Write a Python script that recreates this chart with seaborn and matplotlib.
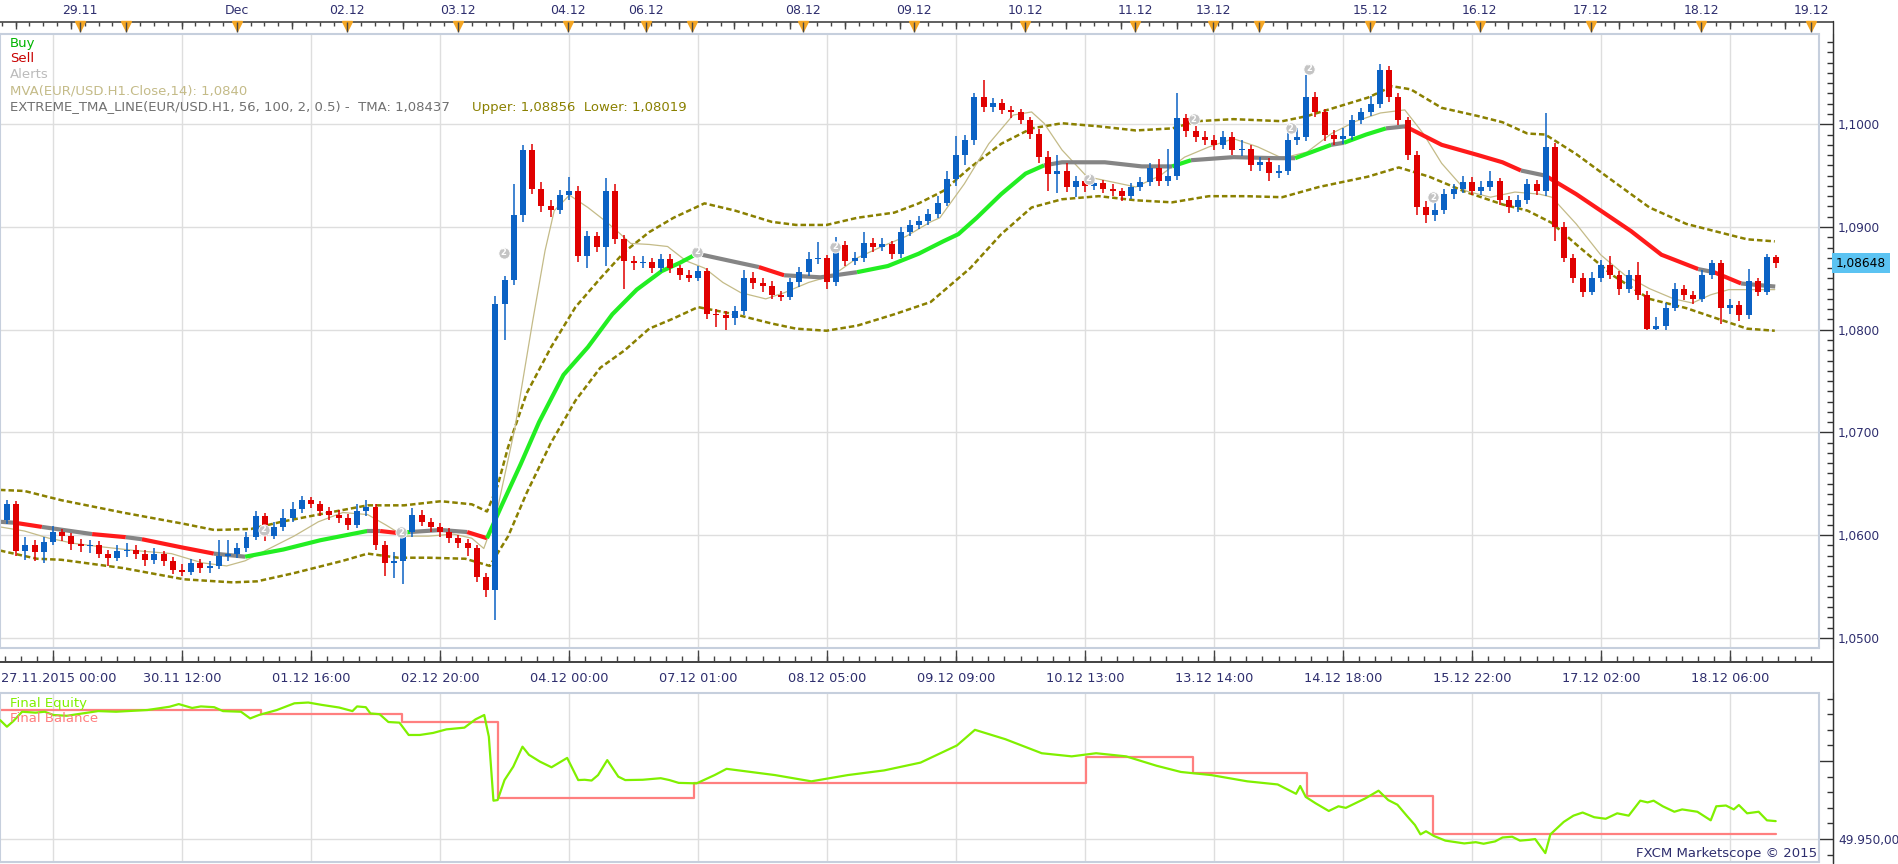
import numpy as np
import matplotlib.pyplot as plt
import seaborn as sns
from matplotlib.lines import Line2D
from matplotlib.ticker import MultipleLocator

sns.set_style("white")
plt.rcParams['font.family'] = ['DejaVu Sans']

W, H = 1899, 864

# ---------------- data (2-hour candles, x = trading hours from 27.11 00:00) ----------------
first_open = 1.0615
closes = [
    1.0630, 1.0585, 1.0590, 1.0584, 1.0593, 1.0603, 1.0599, 1.0591, 1.0589, 1.0590,
    1.0582, 1.0578, 1.0585, 1.0586, 1.0582, 1.0576, 1.0582, 1.0575, 1.0566, 1.0564,
    1.0573, 1.0568, 1.0570, 1.0580, 1.0582, 1.0587, 1.0598, 1.0619, 1.0599, 1.0608,
    1.0617, 1.0625, 1.0634, 1.0630, 1.0623, 1.0620, 1.0617, 1.0610, 1.0623, 1.0627,
    1.0590, 1.0573, 1.0575, 1.0603, 1.0620, 1.0613, 1.0608, 1.0603, 1.0597, 1.0592,
    1.0587, 1.0559, 1.0547, 1.0825, 1.0848, 1.0912, 1.0975, 1.0937, 1.0920, 1.0917,
    1.0931, 1.0935, 1.0872, 1.0891, 1.0881, 1.0935, 1.0888, 1.0867, 1.0865, 1.0866,
    1.0860, 1.0869, 1.0860, 1.0853, 1.0850, 1.0857, 1.0815, 1.0814, 1.0811, 1.0818,
    1.0850, 1.0845, 1.0843, 1.0834, 1.0832, 1.0846, 1.0856, 1.0869, 1.0870, 1.0846,
    1.0882, 1.0867, 1.0870, 1.0884, 1.0881, 1.0883, 1.0874, 1.0895, 1.0902, 1.0906,
    1.0913, 1.0923, 1.0947, 1.0970, 1.0985, 1.1027, 1.1017, 1.1021, 1.1014, 1.1012,
    1.1004, 1.0991, 1.0968, 1.0952, 1.0955, 1.0939, 1.0945, 1.0940, 1.0943, 1.0937,
    1.0935, 1.0930, 1.0939, 1.0944, 1.0957, 1.0945, 1.0950, 1.1006, 1.0993, 1.0988,
    1.0985, 1.0980, 1.0988, 1.0975, 1.0976, 1.0960, 1.0963, 1.0953, 1.0955, 1.0985,
    1.0988, 1.1027, 1.1012, 1.0990, 1.0986, 1.0989, 1.1004, 1.1012, 1.1020, 1.1053,
    1.1027, 1.1004, 1.0970, 1.0919, 1.0912, 1.0917, 1.0932, 1.0937, 1.0944, 1.0935,
    1.0939, 1.0945, 1.0926, 1.0919, 1.0926, 1.0942, 1.0935, 1.0978, 1.0900, 1.0870,
    1.0850, 1.0837, 1.0850, 1.0863, 1.0853, 1.0840, 1.0853, 1.0834, 1.0801, 1.0804,
    1.0821, 1.0840, 1.0834, 1.0830, 1.0853, 1.0865, 1.0821, 1.0824, 1.0814, 1.0847,
    1.0837, 1.0871, 1.0865,
]
highs = [
    1.0634, 1.0633, 1.0598, 1.0595, 1.0598, 1.0609, 1.0606, 1.0602, 1.0596, 1.0595,
    1.0594, 1.0586, 1.0590, 1.0592, 1.0590, 1.0586, 1.0587, 1.0585, 1.0579, 1.0572,
    1.0577, 1.0577, 1.0575, 1.0595, 1.0595, 1.0592, 1.0603, 1.0623, 1.0622, 1.0613,
    1.0625, 1.0632, 1.0638, 1.0637, 1.0633, 1.0627, 1.0624, 1.0621, 1.0630, 1.0634,
    1.0630, 1.0594, 1.0584, 1.0608, 1.0626, 1.0624, 1.0617, 1.0612, 1.0607, 1.0600,
    1.0596, 1.0590, 1.0563, 1.0833, 1.0852, 1.0942, 1.0980, 1.0981, 1.0944, 1.0926,
    1.0936, 1.0949, 1.0940, 1.0896, 1.0895, 1.0948, 1.0942, 1.0892, 1.0872, 1.0872,
    1.0870, 1.0874, 1.0874, 1.0863, 1.0858, 1.0862, 1.0860, 1.0820, 1.0818, 1.0823,
    1.0858, 1.0856, 1.0850, 1.0847, 1.0838, 1.0850, 1.0861, 1.0876, 1.0885, 1.0873,
    1.0890, 1.0886, 1.0876, 1.0895, 1.0889, 1.0889, 1.0886, 1.0900, 1.0907, 1.0911,
    1.0918, 1.0930, 1.0955, 1.0989, 1.0990, 1.1030, 1.1043, 1.1026, 1.1025, 1.1018,
    1.1015, 1.1007, 1.0995, 1.0974, 1.0970, 1.0962, 1.0950, 1.0949, 1.0948, 1.0946,
    1.0942, 1.0938, 1.0943, 1.0949, 1.0962, 1.0966, 1.0976, 1.1030, 1.1010, 1.0998,
    1.0993, 1.0990, 1.0993, 1.0992, 1.0985, 1.0980, 1.0968, 1.0967, 1.0960, 1.0995,
    1.0996, 1.1048, 1.1031, 1.1015, 1.0994, 1.0996, 1.1009, 1.1016, 1.1028, 1.1059,
    1.1057, 1.1030, 1.1007, 1.0974, 1.0925, 1.0924, 1.0937, 1.0942, 1.0950, 1.0949,
    1.0945, 1.0955, 1.0948, 1.0930, 1.0931, 1.0947, 1.0946, 1.1011, 1.0982, 1.0905,
    1.0874, 1.0855, 1.0856, 1.0868, 1.0872, 1.0857, 1.0858, 1.0866, 1.0838, 1.0812,
    1.0826, 1.0845, 1.0844, 1.0838, 1.0858, 1.0868, 1.0868, 1.0830, 1.0828, 1.0859,
    1.0850, 1.0874, 1.0873,
]
lows = [
    1.0611, 1.0580, 1.0576, 1.0575, 1.0573, 1.0590, 1.0594, 1.0586, 1.0584, 1.0583,
    1.0578, 1.0570, 1.0575, 1.0579, 1.0577, 1.0570, 1.0572, 1.0570, 1.0562, 1.0560,
    1.0561, 1.0563, 1.0563, 1.0567, 1.0575, 1.0578, 1.0584, 1.0595, 1.0594, 1.0596,
    1.0604, 1.0613, 1.0622, 1.0626, 1.0619, 1.0615, 1.0612, 1.0605, 1.0607, 1.0619,
    1.0586, 1.0560, 1.0558, 1.0552, 1.0598, 1.0609, 1.0603, 1.0598, 1.0592, 1.0587,
    1.0580, 1.0554, 1.0540, 1.0517, 1.0790, 1.0844, 1.0905, 1.0932, 1.0915, 1.0910,
    1.0913, 1.0926, 1.0866, 1.0860, 1.0876, 1.0862, 1.0883, 1.0840, 1.0858, 1.0860,
    1.0855, 1.0856, 1.0855, 1.0848, 1.0846, 1.0847, 1.0810, 1.0803, 1.0800, 1.0805,
    1.0814, 1.0840, 1.0837, 1.0830, 1.0828, 1.0829, 1.0842, 1.0852, 1.0864, 1.0840,
    1.0843, 1.0862, 1.0863, 1.0866, 1.0876, 1.0877, 1.0869, 1.0870, 1.0891, 1.0898,
    1.0902, 1.0909, 1.0920, 1.0940, 1.0960, 1.0980, 1.1012, 1.1012, 1.1010, 1.1006,
    1.1000, 1.0986, 1.0962, 1.0935, 1.0933, 1.0934, 1.0929, 1.0934, 1.0936, 1.0933,
    1.0930, 1.0925, 1.0927, 1.0935, 1.0940, 1.0940, 1.0940, 1.0946, 1.0988, 1.0983,
    1.0980, 1.0975, 1.0976, 1.0970, 1.0969, 1.0955, 1.0955, 1.0945, 1.0948, 1.0951,
    1.0980, 1.0984, 1.1007, 1.0984, 1.0980, 1.0981, 1.0985, 1.1000, 1.1008, 1.1016,
    1.1022, 1.0999, 1.0965, 1.0912, 1.0904, 1.0906, 1.0913, 1.0927, 1.0933, 1.0931,
    1.0931, 1.0935, 1.0921, 1.0914, 1.0915, 1.0922, 1.0931, 1.0930, 1.0886, 1.0866,
    1.0845, 1.0832, 1.0834, 1.0846, 1.0849, 1.0834, 1.0836, 1.0829, 1.0800, 1.0800,
    1.0800, 1.0818, 1.0829, 1.0825, 1.0827, 1.0849, 1.0806, 1.0815, 1.0808, 1.0810,
    1.0833, 1.0834, 1.0860,
]

# TMA centre line: node hour, value, state of the segment starting at the node (f=flat, d=down, u=up)
tma_h = [-11.5, -8.2, -2.4, 8.5, 15.8, 19.3, 28.0, 34.9, 41.7, 50.0, 58.0, 68.2, 71.0, 74.9, 77.5,
         84.2, 89.9, 94.2, 97.5, 101.5, 105.5, 110.8, 116.1, 121.4, 126.7, 132.1, 136.0, 139.8,
         148.0, 153.2, 158.7, 166.6, 174.5, 181.2, 187.9, 193.2, 196.5, 200.5, 205.8, 211.1,
         215.1, 219.0, 228.3, 236.3, 242.9, 247.0, 256.2, 265.5, 269.6, 277.4, 280.2, 285.0,
         289.3, 293.5, 301.4, 309.3, 314.6, 318.6, 323.9, 330.6, 335.9, 342.5, 349.1, 357.1,
         360.5, 366.4, 373.8]
tma_p = [1.0613, 1.0612, 1.0608, 1.0601, 1.0598, 1.0596, 1.0588, 1.0582, 1.0579, 1.0586, 1.0595,
         1.0604, 1.0604, 1.0602, 1.0603, 1.0605, 1.0603, 1.0597, 1.0630, 1.0669, 1.0710, 1.0756,
         1.0783, 1.0815, 1.0839, 1.0857, 1.0865, 1.0874, 1.0866, 1.0861, 1.0853, 1.0851, 1.0856,
         1.0862, 1.0874, 1.0886, 1.0893, 1.0909, 1.0932, 1.0952, 1.0960, 1.0963, 1.0963, 1.0959,
         1.0959, 1.0965, 1.0968, 1.0967, 1.0967, 1.0980, 1.0982, 1.0990, 1.0996, 1.0998, 1.0980,
         1.0970, 1.0963, 1.0955, 1.0950, 1.0932, 1.0916, 1.0896, 1.0873, 1.0859, 1.0856, 1.0845,
         1.0842]
tma_state = ['f', 'd', 'f', 'd', 'f', 'd', 'd', 'f', 'u', 'u', 'u', 'f', 'd', 'u', 'f',
             'f', 'd', 'u', 'u', 'u', 'u', 'u', 'u', 'u', 'u', 'u', 'u', 'f',
             'f', 'd', 'f', 'f', 'u', 'u', 'u', 'u', 'u', 'u', 'u', 'u',
             'f', 'f', 'f', 'f', 'u', 'f', 'f', 'f', 'u', 'f', 'u', 'u',
             'f', 'd', 'd', 'd', 'd', 'f', 'd', 'd', 'd', 'd', 'd', 'f',
             'd', 'f', 'f']

upper_h = [-11.5, -6.2, 1.8, 15.1, 28.4, 35.0, 43.0, 49.6, 57.6, 68.3, 76.2, 84.2, 90.9, 94.2, 96.5,
           98.8, 102.8, 108.1, 113.4, 118.8, 124.1, 129.4, 134.7, 141.4, 148.0, 156.0, 161.3,
           167.9, 174.6, 182.6, 187.9, 193.2, 199.1, 205.8, 212.4, 219.0, 227.0, 235.0, 242.9,
           248.3, 256.2, 266.8, 272.2, 278.8, 285.4, 290.7, 294.7, 301.4, 309.3, 314.6, 320.0,
           323.9, 330.6, 338.5, 346.5, 354.5, 362.4, 367.7, 373.7]
upper_p = [1.0644, 1.0643, 1.0634, 1.0622, 1.0611, 1.0605, 1.0606, 1.0613, 1.0620, 1.0629, 1.0629,
           1.0633, 1.0630, 1.0623, 1.0648, 1.0686, 1.0738, 1.0783, 1.0822, 1.0850, 1.0876, 1.0895,
           1.0909, 1.0923, 1.0916, 1.0905, 1.0902, 1.0902, 1.0909, 1.0914, 1.0923, 1.0935, 1.0958,
           1.0981, 1.0996, 1.1001, 1.0998, 1.0994, 1.0996, 1.1003, 1.1005, 1.1003, 1.1008, 1.1017,
           1.1026, 1.1037, 1.1034, 1.1016, 1.1008, 1.1002, 1.0991, 1.0990, 1.0971, 1.0945, 1.0919,
           1.0903, 1.0894, 1.0888, 1.0886]
lower_h = [-11.5, -3.5, 1.8, 15.1, 28.4, 39.0, 44.3, 52.3, 62.9, 68.3, 74.9, 81.5, 89.5, 94.8, 98.8,
           102.8, 108.1, 113.4, 118.8, 124.1, 129.4, 134.7, 140.0, 148.0, 156.0, 161.3, 167.9,
           174.6, 182.6, 190.5, 199.1, 205.8, 212.4, 219.0, 227.0, 235.0, 242.9, 250.9, 258.9,
           266.8, 274.8, 285.4, 292.1, 298.7, 306.7, 314.6, 320.0, 325.3, 330.6, 338.5, 346.5,
           354.5, 362.4, 367.7, 373.7]
lower_p = [1.0585, 1.0577, 1.0576, 1.0568, 1.0557, 1.0554, 1.0555, 1.0563, 1.0575, 1.0582, 1.0578,
           1.0578, 1.0577, 1.0570, 1.0599, 1.0641, 1.0690, 1.0731, 1.0763, 1.0780, 1.0801, 1.0811,
           1.0822, 1.0815, 1.0806, 1.0801, 1.0799, 1.0804, 1.0815, 1.0827, 1.0860, 1.0893, 1.0919,
           1.0927, 1.0930, 1.0926, 1.0924, 1.0930, 1.0930, 1.0929, 1.0939, 1.0949, 1.0958, 1.0949,
           1.0934, 1.0922, 1.0916, 1.0904, 1.0883, 1.0853, 1.0830, 1.0821, 1.0809, 1.0801, 1.0799]

mva_h = [-11.5, -6.2, -0.9, 4.5, 9.8, 17.7, 25.7, 32.4, 37.7, 41.7, 47.0, 52.3, 57.6, 62.9, 68.3,
         72.2, 76.2, 81.5, 86.9, 90.9, 93.5, 96.2, 100.2, 104.1, 106.8, 108.8, 112.1, 116.1, 120.1,
         122.7, 125.4, 129.4, 133.4, 137.4, 141.4, 145.4, 149.3, 154.7, 158.7, 164.0, 169.3, 174.6,
         179.9, 185.2, 190.5, 192.5, 197.8, 203.1, 208.4, 212.4, 215.1, 219.0, 224.4, 229.7, 235.0,
         240.3, 245.6, 250.9, 256.2, 261.5, 266.8, 272.2, 277.5, 282.8, 288.1, 293.4, 297.4, 301.4,
         306.7, 312.0, 317.3, 322.6, 325.3, 330.6, 335.9, 341.2, 346.5, 351.8, 355.8, 359.8, 363.7,
         367.7, 373.7]
mva_p = [1.0608, 1.0604, 1.0597, 1.0592, 1.0589, 1.0585, 1.0582, 1.0573, 1.0570, 1.0575, 1.0587,
         1.0599, 1.0613, 1.0622, 1.0620, 1.0610, 1.0599, 1.0599, 1.0601, 1.0597, 1.0587, 1.0620,
         1.0703, 1.0808, 1.0877, 1.0916, 1.0931, 1.0919, 1.0905, 1.0895, 1.0884, 1.0883, 1.0881,
         1.0867, 1.0860, 1.0846, 1.0836, 1.0830, 1.0836, 1.0846, 1.0853, 1.0870, 1.0881, 1.0891,
         1.0905, 1.0909, 1.0942, 1.0981, 1.1009, 1.1012, 1.1001, 1.0975, 1.0949, 1.0944, 1.0939,
         1.0950, 1.0968, 1.0978, 1.0986, 1.0978, 1.0967, 1.0973, 1.0991, 1.1003, 1.1011, 1.1014,
         1.0991, 1.0962, 1.0935, 1.0929, 1.0934, 1.0932, 1.0929, 1.0903, 1.0873, 1.0853, 1.0840,
         1.0830, 1.0826, 1.0834, 1.0839, 1.0839, 1.0839]

equity_h = [-11.5, -10.0, -8.6, -6.7, -3.8, -1.8, 0.1, 3.0, 5.9, 9.8, 13.7, 20.5, 25.3, 27.3, 30.2,
            32.1, 35.0, 36.9, 40.8, 42.8, 44.7, 48.6, 52.4, 55.4, 58.3, 62.1, 65.0, 66.0, 67.9, 68.9,
            70.9, 72.8, 75.2, 77.2, 79.6, 82.5, 85.4, 89.3, 91.7, 93.6, 94.6, 95.6, 96.5, 98.0, 99.9,
            101.9, 103.3, 105.7, 108.2, 111.6, 114.0, 115.4, 116.9, 118.3, 120.3, 122.7, 124.2,
            128.0, 131.9, 133.8, 135.8, 139.7, 143.6, 146.2, 150.2, 156.7, 164.6, 172.5, 180.4,
            188.3, 196.2, 200.1, 206.7, 214.6, 221.1, 226.4, 232.9, 239.5, 244.8, 251.4, 259.2,
            265.8, 269.8, 270.7, 271.9, 274.0, 276.9, 279.0, 280.6, 282.3, 284.8, 287.7, 289.8,
            291.8, 293.9, 295.6, 296.8, 298.0, 299.7, 302.2, 306.3, 308.8, 310.5, 313.0, 314.6,
            316.7, 318.4, 320.4, 321.7, 323.9, 325.0, 327.9, 330.0, 332.0, 334.5, 337.0, 339.5,
            342.0, 344.5, 346.1, 347.4, 349.4, 351.9, 353.6, 356.9, 359.8, 361.0, 363.1, 364.8,
            365.9, 367.7, 370.2, 372.0, 373.9]
equity_v = [50026.3, 50022.0, 50025.6, 50031.6, 50031.0, 50031.6, 50029.5, 50029.0, 50030.3, 50032.0,
            50031.6, 50032.7, 50034.8, 50036.5, 50034.0, 50035.0, 50034.5, 50032.0, 50031.6, 50027.3,
            50029.5, 50032.7, 50037.0, 50037.5, 50036.0, 50034.3, 50032.0, 50035.0, 50034.5, 50030.5,
            50030.0, 50025.0, 50024.6, 50016.7, 50016.7, 50018.0, 50020.3, 50021.4, 50026.7, 50029.5,
            50015.6, 49974.6, 49975.0, 49987.8, 49996.4, 50009.2, 50004.0, 49999.6, 49996.0, 50002.0,
            49987.8, 49988.0, 49987.5, 49991.0, 50000.6, 49990.0, 49987.8, 49988.0, 49989.0, 49987.8,
            49986.0, 49985.7, 49991.0, 49995.0, 49993.5, 49991.0, 49987.0, 49991.0, 49994.0, 49999.0,
            50010.0, 50020.0, 50014.0, 50005.0, 50003.0, 50005.0, 50003.0, 49997.0, 49993.0, 49991.0,
            49987.0, 49985.0, 49979.0, 49984.0, 49977.0, 49973.0, 49968.0, 49971.0, 49970.0, 49972.4,
            49976.0, 49981.0, 49975.0, 49972.0, 49964.7, 49959.0, 49953.0, 49955.0, 49952.0, 49949.0,
            49947.2, 49948.0, 49947.0, 49948.5, 49951.0, 49951.5, 49949.0, 49949.5, 49950.0, 49941.0,
            49953.0, 49961.0, 49965.0, 49967.0, 49964.0, 49963.0, 49966.5, 49965.0, 49974.6, 49973.5,
            49974.6, 49971.0, 49967.5, 49969.0, 49967.5, 49962.0, 49971.0, 49971.5, 49969.0, 49971.8,
            49966.5, 49967.5, 49962.0, 49961.5]
balance_h = [-11.5, 45.1, 75.8, 96.5, 139.1, 224.2, 247.4, 272.2, 299.5, 374.0]
balance_v = [50032.7, 50030.0, 50025.0, 49976.5, 49986.0, 50002.6, 49992.6, 49977.5, 49953.5, 49953.5]

alert_h = [45.7, 75.6, 97.8, 139.8, 169.7, 224.8, 247.6, 268.6, 272.7, 299.6]
alert_p = [1.0605, 1.0603, 1.0875, 1.0876, 1.0881, 1.0947, 1.1005, 1.0996, 1.1054, 1.0929]

bottom_tick_h = [0, 28, 56, 84, 112, 140, 168, 196, 224, 252, 280, 308, 336, 364]
bottom_labels = ["27.11.2015 00:00", "30.11 12:00", "01.12 16:00", "02.12 20:00", "04.12 00:00",
                 "07.12 01:00", "08.12 05:00", "09.12 09:00", "10.12 13:00", "13.12 14:00",
                 "14.12 18:00", "15.12 22:00", "17.12 02:00", "18.12 06:00"]
top_label_h = [5.9, 39.9, 63.8, 87.9, 111.8, 128.7, 162.8, 186.9, 211.0, 234.9, 251.8, 285.9,
               309.7, 333.8, 357.7, 381.6]
top_labels = ["29.11", "Dec", "02.12", "03.12", "04.12", "06.12", "08.12", "09.12", "10.12",
              "11.12", "13.12", "15.12", "16.12", "17.12", "18.12", "19.12"]
marker_h = top_label_h + [15.8, 138.7, 261.8]
price_ticks = [1.05, 1.06, 1.07, 1.08, 1.09, 1.10]
price_labels = ["1,0500", "1,0600", "1,0700", "1,0800", "1,0900", "1,1000"]

# ---------------- styling ----------------
NAVY = '#2E2E6E'
FRAME = '#C6CFDD'
GRID = '#DEDEDE'
UP, DOWN = '#0B62C4', '#E00000'
XL = (-11.5, 383.3)
FS = 9.5

fig = plt.figure(figsize=(W / 100, H / 100), dpi=100)


def px_axes(left, top, right, bottom):
    return fig.add_axes([left / W, 1 - bottom / H, (right - left) / W, (bottom - top) / H])


ax_top = px_axes(0, 0, 1819, 34)
ax = px_axes(0, 34, 1819, 648)
ax_bs = px_axes(0, 648, 1819, 693)
ax_eq = px_axes(0, 693, 1819, 862)

# ---- main price panel ----
ax.set_xlim(XL)
ax.set_ylim(1.04901, 1.10879)
for h in bottom_tick_h:
    ax.axvline(h, color=GRID, lw=1, zorder=0)
for p in price_ticks:
    ax.axhline(p, color=GRID, lw=1, zorder=0)

sns.lineplot(x=upper_h, y=upper_p, ax=ax, color='#8A8000', lw=1.8, dashes=False,
             linestyle=(0, (2.2, 1.2)), sort=False, estimator=None, zorder=2)
sns.lineplot(x=lower_h, y=lower_p, ax=ax, color='#8A8000', lw=1.8, dashes=False,
             linestyle=(0, (2.2, 1.2)), sort=False, estimator=None, zorder=2)
sns.lineplot(x=mva_h, y=mva_p, ax=ax, color='#C4BB88', lw=0.9, sort=False, estimator=None, zorder=2)

state_col = {'u': '#22EE22', 'd': '#FF1A1A', 'f': '#858585'}
i = 0
n = len(tma_h)
while i < n - 1:
    j = i
    while j + 1 < n - 1 and tma_state[j + 1] == tma_state[i]:
        j += 1
    ax.plot(tma_h[i:j + 2], tma_p[i:j + 2], color=state_col[tma_state[i]], lw=3.0,
            solid_capstyle='butt', zorder=2.5)
    i = j + 1

x = np.arange(len(closes)) * 2 - 10
c = np.array(closes)
o = np.r_[first_open, c[:-1]]
cols = np.where(c >= o, UP, DOWN)
ax.vlines(x, lows, highs, colors=cols, lw=1.1, zorder=3)
body_lo = np.minimum(o, c)
body_h = np.maximum(np.abs(c - o), 0.00008)
ax.bar(x, body_h, bottom=body_lo, width=1.3, color=cols, linewidth=0, zorder=3.1)

ax.scatter(alert_h, alert_p, s=65, color='#C4C4C4', edgecolor='white', lw=0.6, zorder=4)
for h, p in zip(alert_h, alert_p):
    ax.text(h, p, '2', color='white', fontsize=6, ha='center', va='center', zorder=5,
            fontweight='bold')

ax.set_xticks([])
ax.set_xlabel('')
ax.set_ylabel('')
ax.yaxis.tick_right()
ax.set_yticks(price_ticks)
ax.set_yticklabels(price_labels)
ax.yaxis.set_minor_locator(MultipleLocator(0.001))
ax.spines['right'].set_position(('outward', 10.1))
ax.spines['right'].set_color('#333333')
for s in ['left', 'top', 'bottom']:
    ax.spines[s].set_color(FRAME)
    ax.spines[s].set_linewidth(1.5)
ax.plot([1, 1], [0, 1], transform=ax.transAxes, color=FRAME, lw=1.5, clip_on=False)
ax.tick_params(axis='y', which='major', direction='in', length=10, width=1, color='#333333',
               labelsize=8.7, labelcolor=NAVY, pad=3.5)
ax.tick_params(axis='y', which='minor', direction='in', length=4.3, width=1, color='#333333')

# ---- top time strip ----
ax_top.set_xlim(XL)
ax_top.set_ylim(34, 0)
ax_top.axis('off')
ax_top.plot([XL[0], XL[1] + 14 / 4.607], [22, 22], color='#444444', lw=1.2, clip_on=False)
ax_top.vlines(np.arange(-11.1, 384, 3), 22, 26, color='#444444', lw=1)
ax_top.vlines(np.arange(-8.1, 384, 12), 22, 29, color='#444444', lw=1)
ax_top.plot(marker_h, [26] * len(marker_h), 'v', color='#F5A623', markersize=7.5, clip_on=False)
ax_top.vlines(marker_h, 22, 32, color='#444444', lw=1)
for h, lab in zip(top_label_h, top_labels):
    ax_top.text(h, 11, lab, ha='center', va='center', color=NAVY, fontsize=9, clip_on=False)

# ---- bottom time strip ----
ax_bs.set_xlim(XL)
ax_bs.set_ylim(693, 648)
ax_bs.axis('off')
ax_bs.plot([XL[0], XL[1] + 14 / 4.607], [662, 662], color='#333333', lw=1.3, clip_on=False)
ax_bs.vlines(np.arange(-10.5, 384, 3.5), 656, 662, color='#444444', lw=1)
ax_bs.vlines(bottom_tick_h, 650, 662, color='#444444', lw=1)
for h, lab in zip(bottom_tick_h, bottom_labels):
    if h == 0:
        ax_bs.text(XL[0] + 0.3, 679, lab, ha='left', va='center', color=NAVY, fontsize=9.3)
    else:
        ax_bs.text(h, 679, lab, ha='center', va='center', color=NAVY, fontsize=9.3)

# ---- equity panel ----
ax_eq.set_xlim(XL)
ax_eq.set_ylim(49935.3, 50043.6)
for h in bottom_tick_h:
    ax_eq.axvline(h, color=GRID, lw=1, zorder=0)
ax_eq.axhline(49950, color=GRID, lw=1, zorder=0)
ax_eq.step(balance_h, balance_v, where='post', color='#FF7F7F', lw=1.6, zorder=2)
sns.lineplot(x=equity_h, y=equity_v, ax=ax_eq, color='#80F000', lw=1.6, sort=False,
             estimator=None, zorder=3)
ax_eq.set_xticks([])
ax_eq.set_xlabel('')
ax_eq.set_ylabel('')
ax_eq.yaxis.tick_right()
ax_eq.set_yticks([49950, 50000])
ax_eq.set_yticklabels(['49.950,00', ''])
ax_eq.yaxis.set_minor_locator(MultipleLocator(10))
ax_eq.spines['right'].set_position(('outward', 10.1))
ax_eq.spines['right'].set_color('#333333')
for s in ['left', 'top', 'bottom']:
    ax_eq.spines[s].set_color(FRAME)
    ax_eq.spines[s].set_linewidth(1.5)
ax_eq.plot([1, 1], [0, 1], transform=ax_eq.transAxes, color=FRAME, lw=1.5, clip_on=False)
ax_eq.tick_params(axis='y', which='major', direction='in', length=10, width=1, color='#333333',
                  labelsize=8.7, labelcolor=NAVY, pad=3.5)
ax_eq.tick_params(axis='y', which='minor', direction='in', length=4.3, width=1, color='#333333')

# continuous right price-axis line
fig.add_artist(Line2D([1833 / W, 1833 / W], [1 - 21 / H, 0], color='#333333', lw=1))


def ftext(px, py, s, **kw):
    fig.text(px / W, 1 - py / H, s, va='center', **kw)


ftext(10, 43, 'Buy', color='#00B400', fontsize=FS)
ftext(10, 59, 'Sell', color='#C80000', fontsize=FS)
ftext(10, 75, 'Alerts', color='#BBBBBB', fontsize=FS)
ftext(10, 91, 'MVA(EUR/USD.H1.Close,14): 1,0840', color='#C4BB88', fontsize=FS)
ftext(10, 107, 'EXTREME_TMA_LINE(EUR/USD.H1, 56, 100, 2, 0.5) -  TMA: 1,08437',
      color='#707070', fontsize=FS)
ftext(472, 107, 'Upper: 1,08856  Lower: 1,08019', color='#8A8000', fontsize=FS)
ftext(10, 703, 'Final Equity', color='#80F000', fontsize=FS)
ftext(10, 719, 'Final Balance', color='#FF7F7F', fontsize=FS)
ftext(1817, 853, 'FXCM Marketscope \u00a9 2015', color=NAVY, fontsize=9.5, ha='right')
ftext(1836, 263, '1,08648', color='black', fontsize=8.7,
      bbox=dict(facecolor='#5BC3F2', edgecolor='none', pad=2.5))

fig.savefig('out.png', dpi=100)
